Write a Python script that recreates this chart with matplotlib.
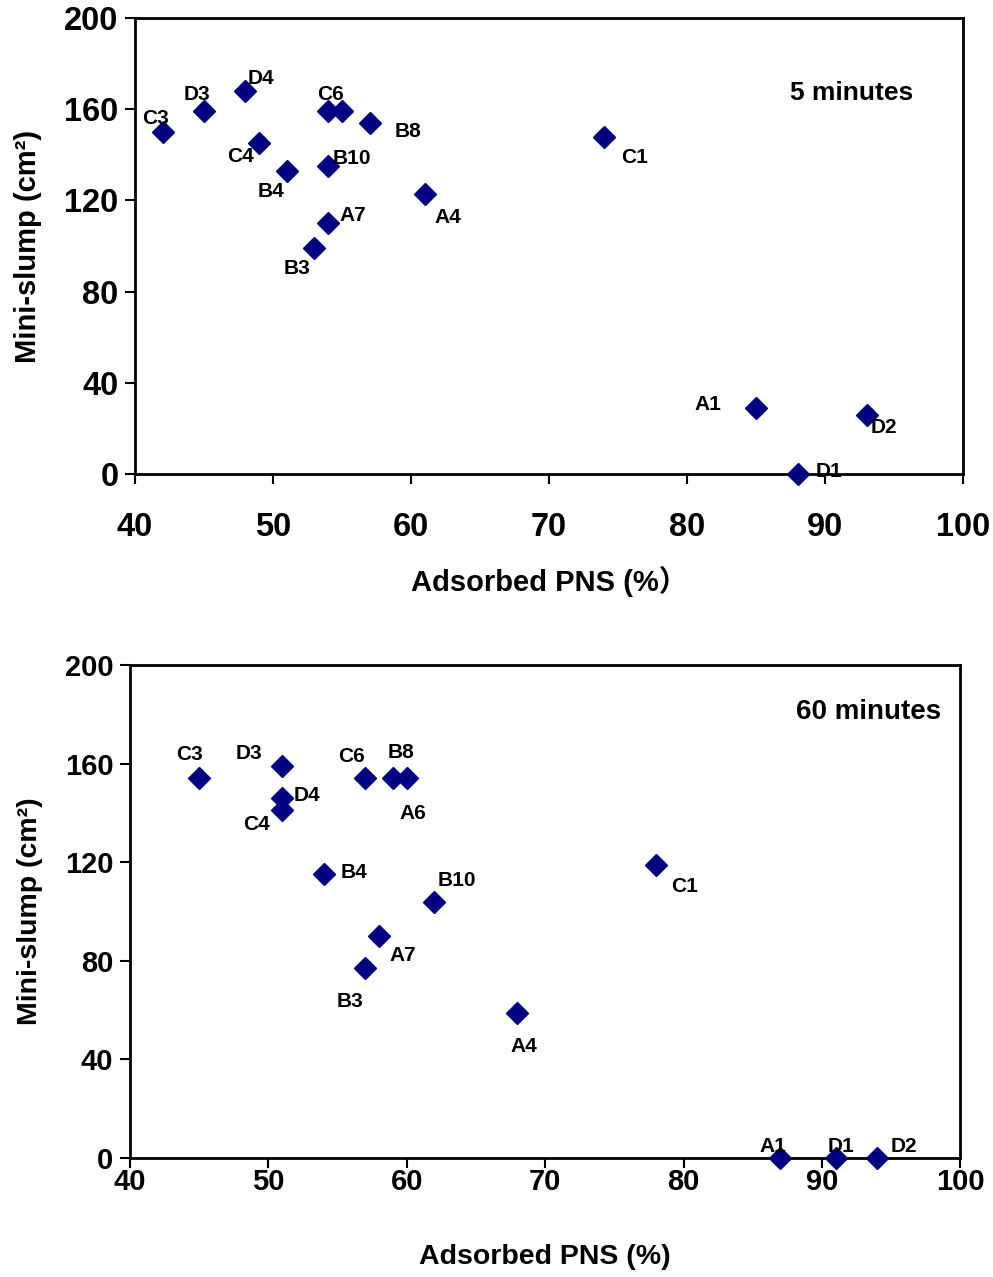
import matplotlib
matplotlib.use("Agg")
import matplotlib.pyplot as plt

plt.rcParams['font.family'] = ['Liberation Sans', 'Noto Sans CJK SC', 'DejaVu Sans']
plt.rcParams['font.weight'] = 'bold'

# Mini-slump after 5 minutes
labels_5 = ["C3", "D3", "D4", "C4", "B4", "C6", "A6", "B8", "B10", "A7",
            "B3", "A4", "C1", "A1", "D2", "D1"]
pns_5 = [42, 45, 48, 49, 51, 54, 55, 57, 54, 54, 53, 61, 74, 85, 93, 88]
slump_5 = [150, 159, 168, 145, 133, 159, 159, 154, 135, 110, 99, 123, 148, 29, 26, 0]
show_5 = [True, True, True, True, True, True, False, True, True, True,
          True, True, True, True, True, True]

# Mini-slump after 60 minutes
labels_60 = ["C3", "D3", "D4", "C4", "C6", "B8", "A6", "B4", "B10", "A7",
             "B3", "A4", "C1", "A1", "D1", "D2"]
pns_60 = [45, 51, 51, 51, 57, 59, 60, 54, 62, 58, 57, 68, 78, 87, 91, 94]
slump_60 = [154, 159, 146, 141, 154, 154, 154, 115, 104, 90, 77, 59, 119, 0, 0, 0]

# label offsets in pixels (dx, dy) relative to each marker
offs_5 = [(-7, 14), (-7, 17), (15, 12), (-19, -13), (-16, -21), (2, 17), (0, 0),
          (38, -9), (24, 8), (25, 8), (-17, -20), (23, -24), (30, -21),
          (-48, 3), (17, -13), (31, 3)]
offs_60 = [(-10, 24), (-33, 13), (25, 3), (-26, -14), (-14, 22), (8, 26), (6, -35),
           (30, 2), (22, 21), (24, -19), (-15, -33), (6, -34), (29, -22),
           (-7, 11), (5, 11), (27, 11)]

xticks = [40, 50, 60, 70, 80, 90, 100]
yticks = [0, 40, 80, 120, 160, 200]

fig = plt.figure(figsize=(9.93, 12.77), dpi=100)
ax1 = fig.add_axes([0.136, 0.6288, 0.834, 0.3571])
ax2 = fig.add_axes([0.131, 0.0932, 0.836, 0.3861])

marker_color = "#000080"


def style_axes(ax, tick_size, xpad, ypad):
    ax.set_xlim(40, 100)
    ax.set_ylim(0, 200)
    ax.set_xticks(xticks)
    ax.set_yticks(yticks)
    for s in ax.spines.values():
        s.set_linewidth(2.0)
        s.set_color("black")
    ax.tick_params(axis='both', direction='out', length=7, width=1.5,
                   labelsize=tick_size)
    ax.tick_params(axis='x', pad=xpad)
    ax.tick_params(axis='y', pad=ypad)
    for lab in ax.get_xticklabels() + ax.get_yticklabels():
        lab.set_fontweight('bold')


def draw(ax, xs, ys, names, offs, show=None):
    ax.plot(xs, ys, linestyle='none', marker='D', markersize=11.5,
            color=marker_color, markeredgecolor=marker_color, clip_on=False,
            zorder=3)
    for i, (x, y, n, o) in enumerate(zip(xs, ys, names, offs)):
        if show is not None and not show[i]:
            continue
        ax.annotate(n, (x, y), xytext=o, textcoords='offset pixels',
                    ha='center', va='center', fontsize=15, fontweight='bold',
                    zorder=4)


draw(ax1, pns_5, slump_5, labels_5, offs_5, show_5)
style_axes(ax1, 23.5, 20, 5)
ax1.set_xlabel("Adsorbed PNS (%）", fontsize=21, fontweight='bold', labelpad=17)
ax1.set_ylabel("Mini-slump (cm²)", fontsize=21, fontweight='bold', labelpad=16)
ax1.text(0.865, 0.835, "5 minutes", transform=ax1.transAxes, ha='center',
         va='center', fontsize=19, fontweight='bold')

draw(ax2, pns_60, slump_60, labels_60, offs_60)
style_axes(ax2, 21, 0, 5)
ax2.set_xlabel("Adsorbed PNS (%)", fontsize=20.5, fontweight='bold', labelpad=35)
ax2.set_ylabel("Mini-slump (cm²)", fontsize=20.5, fontweight='bold', labelpad=16)
ax2.text(0.89, 0.905, "60 minutes", transform=ax2.transAxes, ha='center',
         va='center', fontsize=20, fontweight='bold')

fig.savefig("out.png", dpi=100)
